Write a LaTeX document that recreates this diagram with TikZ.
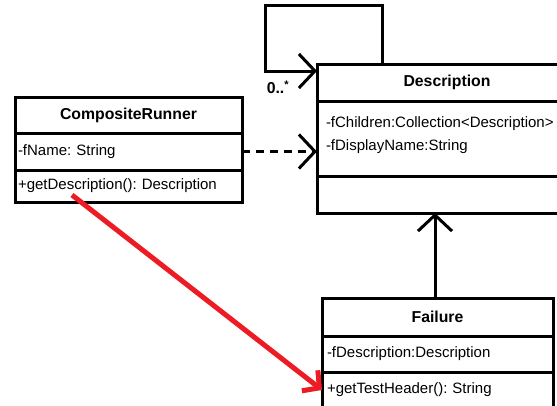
\documentclass[tikz,border=0pt]{standalone}
\usepackage{fontspec}
\setmainfont{Liberation Sans}
\usepackage{xcolor}
\usepackage{tikz}
\usetikzlibrary{positioning,arrows.meta}
\definecolor{paintRed}{RGB}{237,28,36}
\newcommand{\umlFont}{\fontsize{15}{23}\selectfont\frenchspacing}
\newcommand{\umlHeadFont}{\fontsize{15.8}{23}\selectfont\bfseries}
\tikzstyle{arrow} = [draw, line width=3pt, -{Straight Barb[length=16pt,width=34pt]}]
\tikzstyle{dashArrow} = [arrow, dash pattern=on 8pt off 6pt]
\tikzstyle{redArrow} = [draw, paintRed, line width=5pt, -{Straight Barb[length=12pt,width=26pt]}]
\tikzstyle{classHead} = [draw, line width=3pt, rectangle, font=\umlHeadFont, align=center,
    inner xsep=0pt, inner ysep=0pt, outer sep=0pt]
\tikzstyle{classPart} = [draw, line width=3pt, rectangle, align=left,
    inner ysep=0pt, outer sep=0pt]

\begin{document}
\begin{tikzpicture}[x=1pt, y=-1pt, font=\umlFont]
      \useasboundingbox (0,0) rectangle (557,405);
      % Place nodes
      \node [classHead, anchor=north west, text width=260pt, minimum height=37pt] (descHead) at (317,64) {Description\hspace*{28pt}};
      \node [classPart, below=0pt of descHead, inner xsep=9pt, text width=242pt, minimum height=75pt, text depth=32pt] (descAttr) {-fChildren:Collection<Description>\\-fDisplayName:String};
      \node [classPart, below=0pt of descAttr, inner xsep=9pt, text width=242pt, minimum height=37pt] (descOps) {};

      \node [classHead, anchor=north west, text width=227pt, minimum height=36pt] (cruHead) at (15,97) {CompositeRunner};
      \node [classPart, below=0pt of cruHead, inner xsep=3pt, text width=221pt, minimum height=37pt] (cruAttr) {-fName: String};
      \node [classPart, below=0pt of cruAttr, inner xsep=3pt, text width=221pt, minimum height=32pt] (cruOps) {+getDescription(): Description};

      \node [classHead, anchor=north west, text width=231pt, minimum height=38pt] (failHead) at (322,298) {Failure};
      \node [classPart, below=0pt of failHead, inner xsep=5pt, text width=221pt, minimum height=36pt] (failAttr) {-fDescription:Description};
      \node [classPart, below=0pt of failAttr, inner xsep=5pt, text width=221pt, minimum height=36pt] (failOps) {+getTestHeader(): String};

      \node [font=\umlHeadFont] (mult) at (278,87) {0..\textsuperscript{*}};
      \coordinate (redStart) at (72,195);

      \path [arrow] ([xshift=65pt]descHead.north west) -- ++(0,-59) -- ++(-117,0) |- ([yshift=-7pt]descHead.north west);
      \path [dashArrow] (cruAttr.east) -- (cruAttr.east -| descAttr.west);
      \path [arrow] (failHead.north -| 435,0) -- (descOps.south -| 435,0);
      \path [redArrow] (redStart) -- (failOps.west);

  \end{tikzpicture}
\end{document}
